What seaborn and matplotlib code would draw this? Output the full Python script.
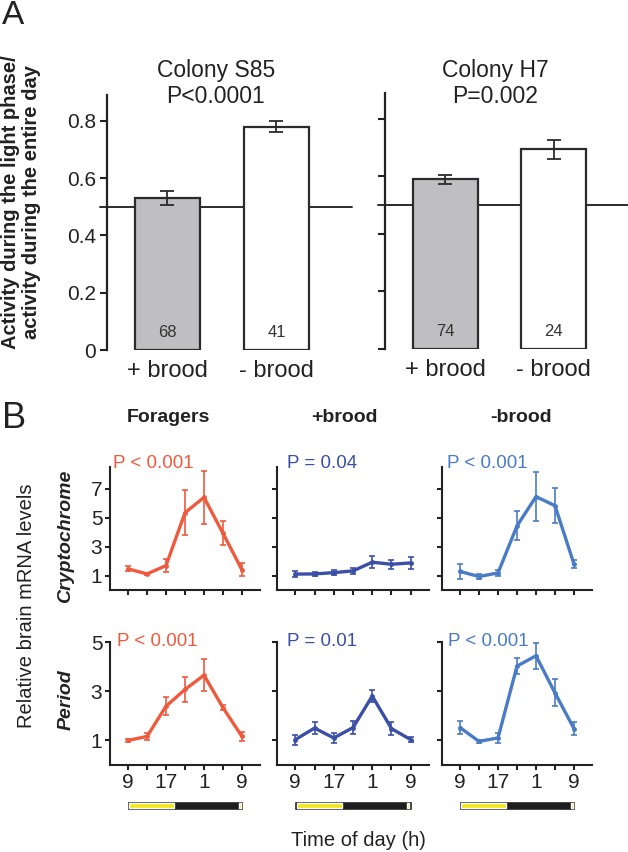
import numpy as np
import pandas as pd
import matplotlib
matplotlib.use('Agg')
import matplotlib.pyplot as plt
import seaborn as sns

# ---- panel A data ----
groups = ['+ brood', '- brood']
s85_mean = [0.53, 0.78]
s85_err = [0.025, 0.02]
s85_n = [68, 41]
h7_mean = [0.59, 0.695]
h7_err = [0.015, 0.033]
h7_n = [74, 24]

# ---- panel B data (7 sampling points every 4 h starting 09:00) ----
time_labels = ['9', '', '17', '', '1', '', '9']
cry_foragers = [1.46, 1.11, 1.69, 5.34, 6.40, 3.92, 1.39]
cry_foragers_err = [0.17, 0.08, 0.45, 1.55, 1.85, 0.83, 0.45]
cry_plus = [1.10, 1.11, 1.20, 1.32, 1.92, 1.78, 1.87]
cry_plus_err = [0.20, 0.15, 0.15, 0.20, 0.40, 0.30, 0.40]
cry_minus = [1.28, 0.93, 1.18, 4.43, 6.45, 5.83, 1.80]
cry_minus_err = [0.55, 0.15, 0.20, 1.00, 1.70, 1.20, 0.25]

per_foragers = [1.00, 1.16, 2.39, 3.07, 3.65, 2.33, 1.16]
per_foragers_err = [0.05, 0.15, 0.37, 0.49, 0.65, 0.10, 0.20]
per_plus = [1.03, 1.50, 1.10, 1.52, 2.80, 1.48, 1.03]
per_plus_err = [0.20, 0.24, 0.20, 0.25, 0.25, 0.25, 0.10]
per_minus = [1.52, 0.96, 1.10, 4.02, 4.44, 2.93, 1.48]
per_minus_err = [0.25, 0.05, 0.20, 0.34, 0.52, 0.55, 0.28]

# light phases in hours after 09:00
light_start = [0, 23]
light_end = [10, 24]

cols = ['Foragers', '+brood', '-brood']
colors = ['#ee5a3e', '#3b4fa6', '#4a7bc5']
p_cry = ['P < 0.001', 'P = 0.04', 'P < 0.001']
p_per = ['P < 0.001', 'P = 0.01', 'P < 0.001']

sns.set_theme(style='ticks')
plt.rcParams['font.family'] = ['Liberation Sans', 'DejaVu Sans']
ink = '#222222'
plt.rcParams['text.color'] = ink
plt.rcParams['axes.edgecolor'] = ink
plt.rcParams['xtick.color'] = ink
plt.rcParams['ytick.color'] = ink

W, H = 628, 852
fig = plt.figure(figsize=(W / 100, H / 100), dpi=100)


def add_ax(l, t, r, b):
    return fig.add_axes([l / W, 1 - b / H, (r - l) / W, (b - t) / H])


def ftext(x, y, s, **kw):
    fig.text(x / W, 1 - y / H, s, **kw)


# ================= panel A =================
for (l, t, r, b), means, errs, ns, show_lab in [
        ((107, 95, 351, 350), s85_mean, s85_err, s85_n, True),
        ((385, 93, 628, 349), h7_mean, h7_err, h7_n, False)]:
    ax = add_ax(l, t, r, b)
    df = pd.DataFrame({'group': groups, 'ratio': means})
    sns.barplot(data=df, x='group', y='ratio', hue='group', ax=ax,
                palette=['#bfbfc1', 'white'], edgecolor='#2b2b2b',
                linewidth=1.6, width=0.6, errorbar=None, legend=False,
                zorder=2)
    ax.errorbar([0, 1], means, yerr=errs, fmt='none', ecolor='#2b2b2b',
                elinewidth=1.3, capsize=5, capthick=1.3, zorder=3)
    ax.plot([-0.62, 1.69], [0.5, 0.5], color='#2b2b2b', lw=1.4,
            zorder=0.5, clip_on=False)
    for i, n in enumerate(ns):
        ax.text(i, 0.06, str(n), ha='center', va='center', fontsize=12,
                color='#333333', zorder=4)
    ax.set_xlim(-0.555, 1.685)
    ax.set_ylim(0, 0.89)
    ax.set_yticks([0, 0.2, 0.4, 0.6, 0.8])
    if show_lab:
        ax.set_yticklabels(['0', '0.2', '0.4', '0.6', '0.8'], fontsize=15)
    else:
        ax.set_yticklabels([])
    ax.tick_params(axis='y', length=5, width=1.5, pad=3)
    ax.tick_params(axis='x', length=0, pad=7, labelsize=17)
    ax.set_xlabel('')
    ax.set_ylabel('')
    for s in ['top', 'right', 'bottom']:
        ax.spines[s].set_visible(False)
    ax.spines['left'].set_linewidth(1.6)
    ax.patch.set_alpha(0)

ftext(216, 77, 'Colony S85', ha='center', va='baseline', fontsize=16.5)
ftext(216, 103, 'P<0.0001', ha='center', va='baseline', fontsize=16.5)
ftext(495, 77, 'Colony H7', ha='center', va='baseline', fontsize=16.5)
ftext(495, 103, 'P=0.002', ha='center', va='baseline', fontsize=16.5)
ftext(21, 202, 'Activity during the light phase/\nactivity during the entire day',
      rotation=90, ha='center', va='center', fontsize=14.5,
      fontweight='bold', linespacing=1.1)
ftext(2, 24, 'A', ha='left', va='baseline', fontsize=24)

# ================= panel B =================
col_px = [(110, 260), (277, 429), (442, 592)]
row_px = [(467, 590), (642, 765)]
cry_sets = [(cry_foragers, cry_foragers_err), (cry_plus, cry_plus_err),
            (cry_minus, cry_minus_err)]
per_sets = [(per_foragers, per_foragers_err), (per_plus, per_plus_err),
            (per_minus, per_minus_err)]
p_left = [[113, 287, 447], [117, 287, 448]]
p_y = [463, 642]
idx = np.arange(len(time_labels))
xl = (-0.95, 6.95)

for r, (sets, ptexts, ylim, yt) in enumerate([
        (cry_sets, p_cry, (0, 8.5), [1, 3, 5, 7]),
        (per_sets, p_per, (0, 5), [1, 3, 5])]):
    t, b = row_px[r]
    for c in range(3):
        l, rr = col_px[c]
        ax = add_ax(l, t, rr, b)
        vals, errs = sets[c]
        sns.lineplot(x=idx, y=vals, ax=ax, color=colors[c], lw=2.4,
                     marker='o', markersize=3.5, markeredgewidth=0)
        ax.errorbar(idx, vals, yerr=errs, fmt='none', ecolor=colors[c],
                    elinewidth=1.2, capsize=2.2, capthick=1.2)
        ax.set_xlim(*xl)
        ax.set_ylim(*ylim)
        ax.set_xticks(idx)
        ax.set_yticks(yt)
        if r == 1:
            ax.set_xticklabels(time_labels, fontsize=15)
        else:
            ax.set_xticklabels([])
        if c == 0:
            ax.set_yticklabels([str(v) for v in yt], fontsize=15)
        else:
            ax.set_yticklabels([])
        ax.tick_params(length=3.5, width=1.5, pad=2)
        ax.set_xlabel('')
        ax.set_ylabel('')
        for s in ['top', 'right']:
            ax.spines[s].set_visible(False)
        for s in ['left', 'bottom']:
            ax.spines[s].set_linewidth(1.5)
        ax.patch.set_alpha(0)
        ftext(p_left[r][c], p_y[r], ptexts[c], ha='left', va='center',
              fontsize=13.5, color=colors[c])

# light / dark bars
for l, rr in col_px:
    lax = add_ax(l, 801, rr, 810)
    lax.barh(0, 24.6, left=-0.3, height=1.0, color='#1e1e1e')
    for s0, s1 in zip(light_start, light_end):
        lax.barh(0, s1 - s0 - 0.6, left=s0 + 0.3, height=0.5,
                 color='#f2e614')
    lax.set_xlim(xl[0] * 4, xl[1] * 4)
    lax.set_ylim(-0.5, 0.5)
    lax.axis('off')

ftext(168, 417, 'Foragers', ha='center', va='center', fontsize=14,
      fontweight='bold')
ftext(344, 417, '+brood', ha='center', va='center', fontsize=14,
      fontweight='bold')
ftext(521, 417, '-brood', ha='center', va='center', fontsize=14,
      fontweight='bold')
ftext(66, 536, 'Cryptochrome', rotation=90, ha='center', va='center',
      fontsize=14, fontweight='bold', fontstyle='italic')
ftext(66, 700, 'Period', rotation=90, ha='center', va='center',
      fontsize=14, fontweight='bold', fontstyle='italic')
ftext(27, 606, 'Relative brain mRNA levels', rotation=90, ha='center',
      va='center', fontsize=14.5)
ftext(358, 840, 'Time of day (h)', ha='center', va='center', fontsize=14.5)
ftext(2, 428, 'B', ha='left', va='baseline', fontsize=26)

fig.savefig('out.png', dpi=100)
